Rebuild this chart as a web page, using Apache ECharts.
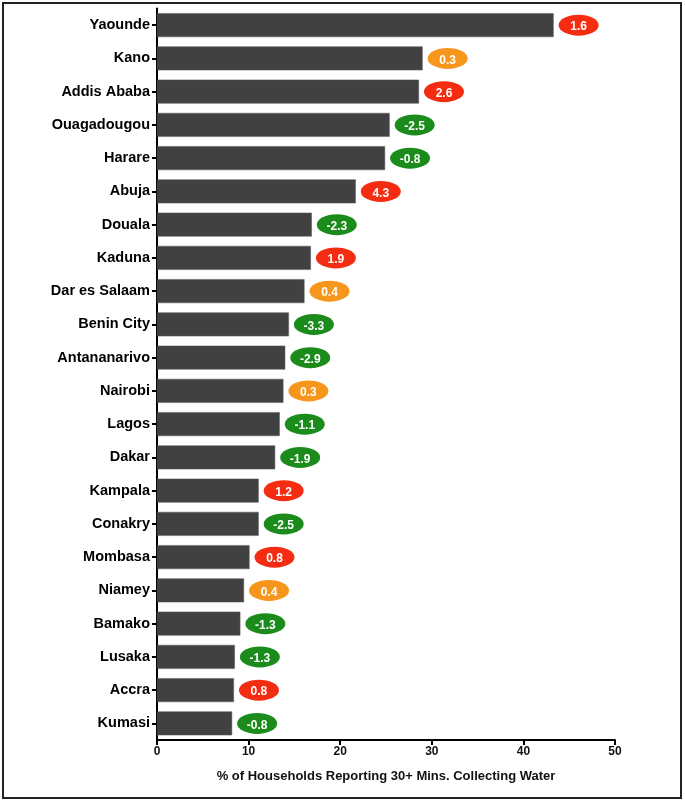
<!DOCTYPE html>
<html><head><meta charset="utf-8">
<script src="https://cdn.jsdelivr.net/npm/echarts@6/dist/echarts.min.js"></script>
<style>html,body{margin:0;padding:0;background:#fff}#c{width:685px;height:803px}</style>
</head><body><div id="c"></div>
<script>
const cities = ["Yaounde","Kano","Addis Ababa","Ouagadougou","Harare","Abuja","Douala","Kaduna","Dar es Salaam","Benin City","Antananarivo","Nairobi","Lagos","Dakar","Kampala","Conakry","Mombasa","Niamey","Bamako","Lusaka","Accra","Kumasi"];
const pctCollecting = [43.3,29.0,28.6,25.4,24.9,21.7,16.9,16.8,16.1,14.4,14.0,13.8,13.4,12.9,11.1,11.1,10.1,9.5,9.1,8.5,8.4,8.2];
const changeValues = [1.6,0.3,2.6,-2.5,-0.8,4.3,-2.3,1.9,0.4,-3.3,-2.9,0.3,-1.1,-1.9,1.2,-2.5,0.8,0.4,-1.3,-1.3,0.8,-0.8];
const xTicks = [0,10,20,30,40,50];

const RED = '#f42d12', ORANGE = '#f7961c', GREEN = '#1b8c1b';
function changeColor(v){ return v < 0 ? GREEN : (v < 0.5 ? ORANGE : RED); }
const FONT = '"Liberation Sans", Arial, Helvetica, sans-serif';
const ellipsePath = 'path://M0,10 A20,10 0 1,1 40,10 A20,10 0 1,1 0,10 Z';

const chart = echarts.init(document.getElementById('c'));
chart.setOption({
  animation: false,
  backgroundColor: '#fff',
  graphic: [{type:'rect', shape:{x:3,y:3,width:678,height:795}, style:{fill:'none', stroke:'#222', lineWidth:2}}],
  grid: {left:157, right:70, top:8.5, bottom:63},
  xAxis: {
    type:'value', min:xTicks[0], max:xTicks[xTicks.length-1], interval:10,
    axisLine:{show:true, onZero:false, lineStyle:{color:'#000', width:2}},
    axisTick:{show:true, length:5, lineStyle:{color:'#000', width:2}},
    splitLine:{show:false},
    axisLabel:{color:'#111', fontFamily:FONT, fontWeight:'bold', fontSize:12, margin:6},
    name:'% of Households Reporting 30+ Mins. Collecting Water',
    nameLocation:'middle', nameGap:30,
    nameTextStyle:{color:'#111', fontFamily:FONT, fontWeight:'bold', fontSize:13}
  },
  yAxis: {
    type:'category', data:cities, inverse:true,
    axisLine:{show:true, lineStyle:{color:'#000', width:2}},
    axisTick:{show:true, alignWithLabel:true, length:5, lineStyle:{color:'#000', width:2}},
    axisLabel:{color:'#000', fontFamily:FONT, fontWeight:'bold', fontSize:14.5, margin:7}
  },
  series: [
    {type:'bar', data:pctCollecting, barCategoryGap:'28%',
     itemStyle:{color:'#414141', borderColor:'#5a5a5a', borderWidth:0.5}},
    {type:'scatter', symbol:ellipsePath, symbolKeepAspect:false, symbolSize:[40,21], symbolOffset:[25,0],
     data: pctCollecting.map((v,i)=>({value:[v, cities[i]], change:changeValues[i], itemStyle:{color:changeColor(changeValues[i]), opacity:1}})),
     itemStyle:{opacity:1},
     emphasis:{disabled:true},
     label:{show:true, position:'inside', align:'center', verticalAlign:'middle', offset:[0,2], color:'#fff', fontFamily:FONT, fontWeight:'bold', fontSize:12,
       formatter: p => p.data.change.toFixed(1)},
     z:5}
  ]
});
</script></body></html>
